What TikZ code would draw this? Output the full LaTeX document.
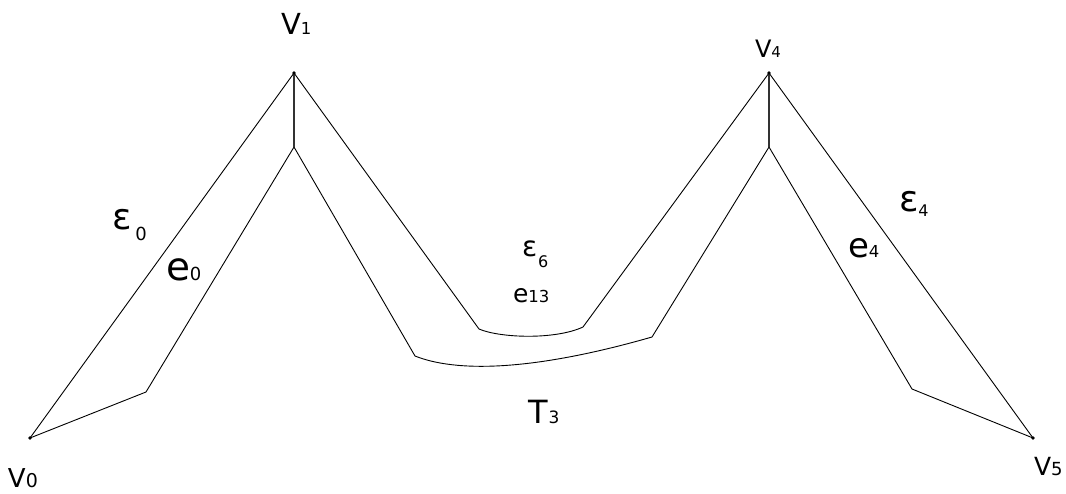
\documentclass[tikz,border=0pt]{standalone}
\usepackage{fontspec}
\setmainfont{DejaVu Sans}
% label: main letter, subscript digit lowered by #5 with extra gap #6
\newcommand\lbl[6]{{\fontsize{#1}{#1}\selectfont #2}\kern#6\raisebox{-#5}{\fontsize{#3}{#3}\selectfont #4}}
\begin{document}
\begin{tikzpicture}[x=1pt,y=-1pt,
  edge/.style={draw=black,line width=0.9pt,line join=round},
  stem/.style={draw=black!80,line width=1.3pt},
  vdot/.style={fill=black},
  lab/.style={anchor=base west,inner sep=0pt,outer sep=0pt,text=black}]
\useasboundingbox (0,0) rectangle (1066,493);
% outer vertices
\coordinate (v0) at (30,438);
\coordinate (v1) at (294,73);
\coordinate (v4) at (769,73);
\coordinate (v5) at (1033,438);
% inner path points
\coordinate (i1) at (294,147);
\coordinate (i4) at (769,147);
\coordinate (l0) at (146,392);
\coordinate (r5) at (912,389);
\coordinate (ua) at (479,329);
\coordinate (ub) at (583,327);
\coordinate (la) at (415,356);
\coordinate (lb) at (652,337);
% outer boundary
\draw[edge] (v0) -- (v1) -- (ua) .. controls (500,338) and (555,340) .. (ub) -- (v4) -- (v5);
% inner boundary
\draw[edge] (v0) -- (l0) -- (i1) -- (la) .. controls (455,372) and (530,372) .. (lb) -- (i4) -- (r5) -- (v5);
% vertical stems
\draw[stem] (v1) -- (i1);
\draw[stem] (v4) -- (i4);
\foreach \p in {v0,v1,v4,v5} \fill[vdot] (\p) circle (1.8);
% vertex labels
\node[lab] (tv0) at (8,487) {\lbl{26pt}{V}{19pt}{0}{0pt}{0pt}};
\node[lab] (tv1) at (281,34) {\lbl{29pt}{V}{16.5pt}{1}{0pt}{0pt}};
\node[lab] (tv4) at (755,57) {\lbl{24pt}{V}{15pt}{4}{0pt}{0pt}};
\node[lab] (tv5) at (1034,475) {\lbl{25pt}{V}{18pt}{5}{0pt}{0pt}};
% edge labels
\node[lab] (te0) at (166,280) {\lbl{39pt}{e}{18pt}{0}{0pt}{0pt}};
\node[lab] (te13) at (513,302) {\lbl{25pt}{e}{16.5pt}{13}{0pt}{0pt}};
\node[lab] (te4) at (848,257) {\lbl{34pt}{e}{16.5pt}{4}{0pt}{0pt}};
\node[lab] (tE0) at (112,229) {\lbl{36pt}{ε}{18pt}{0}{11pt}{4pt}};
\node[lab] (tE6) at (522,256) {\lbl{28pt}{ε}{16pt}{6}{11pt}{1pt}};
\node[lab] (tE4) at (899,211) {\lbl{36pt}{ε}{16pt}{4}{5pt}{0pt}};
\node[lab] (tT3) at (528,423) {\lbl{32pt}{T}{17pt}{3}{0pt}{1pt}};
\end{tikzpicture}
\end{document}
